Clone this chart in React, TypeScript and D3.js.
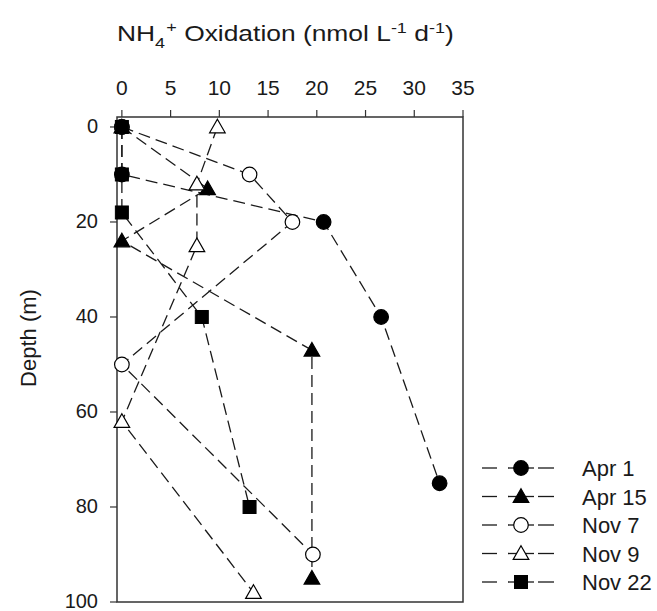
import React from "react";
import * as d3 from "d3";

const depthApr1 = [0, 10, 20, 40, 75];
const valApr1 = [0, 0, 20.7, 26.6, 32.6];
const depthApr15 = [0, 13, 24, 47, 95];
const valApr15 = [0, 8.8, 0, 19.5, 19.5];
const depthNov7 = [0, 10, 20, 50, 90];
const valNov7 = [0, 13.1, 17.5, 0, 19.6];
const depthNov9 = [0, 12, 25, 62, 98];
const valNov9 = [9.8, 7.7, 7.7, 0, 13.5];
const depthNov22 = [0, 10, 18, 40, 80];
const valNov22 = [0, 0, 0, 8.2, 13.1];

const seriesNames = ["Apr 1", "Apr 15", "Nov 7", "Nov 9", "Nov 22"];
const xTicks = [0, 5, 10, 15, 20, 25, 30, 35];
const yTicks = [0, 20, 40, 60, 80, 100];

type Shape = "circle" | "triangle" | "square";
const series = [
  { name: seriesNames[0], d: depthApr1, v: valApr1, shape: "circle" as Shape, filled: true },
  { name: seriesNames[1], d: depthApr15, v: valApr15, shape: "triangle" as Shape, filled: true },
  { name: seriesNames[2], d: depthNov7, v: valNov7, shape: "circle" as Shape, filled: false },
  { name: seriesNames[3], d: depthNov9, v: valNov9, shape: "triangle" as Shape, filled: false },
  { name: seriesNames[4], d: depthNov22, v: valNov22, shape: "square" as Shape, filled: true },
];

const FONT = "'Liberation Sans', Arial, sans-serif";
const INK = "#1a1a1a";

function Marker({ shape, filled, x, y }: { shape: Shape; filled: boolean; x: number; y: number }) {
  const fill = filled ? "#000" : "#fff";
  const stroke = "#000";
  if (shape === "circle") {
    return <circle cx={x} cy={y} r={7.3} fill={fill} stroke={stroke} strokeWidth={1.2} />;
  }
  if (shape === "square") {
    return <rect x={x - 6.5} y={y - 6.5} width={13} height={13} fill={fill} stroke={stroke} strokeWidth={1} />;
  }
  const s = 7.8;
  const p = `M${x},${y - s} L${x + s},${y + s * 0.75} L${x - s},${y + s * 0.75} Z`;
  return <path d={p} fill={fill} stroke={stroke} strokeWidth={1.2} />;
}

export default function App() {
  const W = 657, H = 611;
  const x = d3.scaleLinear().domain([-0.5, 35]).range([117, 463]);
  const y = d3.scaleLinear().domain([-2.1, 100]).range([117, 602]);
  const line = d3
    .line<[number, number]>()
    .x((p) => x(p[0]))
    .y((p) => y(p[1]));

  const left = x.range()[0], right = x.range()[1];
  const top = y.range()[0], bottom = y.range()[1];

  const legendY = d3.scalePoint<string>().domain(seriesNames).range([468, 582]);

  return (
    <svg width={W} height={H} style={{ position: "absolute", left: 0, top: 0, background: "#fff" }} fontFamily={FONT}>
      <rect x={0} y={0} width={W} height={H} fill="#fff" />
      {/* title */}
      <g transform="translate(117,41) scale(1.2,1)">
        <text x={0} y={0} fontSize={22} fill={INK}>
          NH<tspan dy={7} fontSize={15}>4</tspan>
          <tspan dy={-16} dx={1} fontSize={15}>+</tspan>
          <tspan dy={9}> Oxidation (nmol L</tspan>
          <tspan dy={-8} fontSize={15}>-1</tspan>
          <tspan dy={8}> d</tspan>
          <tspan dy={-8} fontSize={15}>-1</tspan>
          <tspan dy={8}>)</tspan>
        </text>
      </g>

      {/* frame */}
      <rect x={left} y={top} width={right - left} height={bottom - top} fill="none" stroke="#333" strokeWidth={1.5} />

      {/* top axis ticks */}
      {xTicks.map((t) => (
        <g key={"xt" + t}>
          <line x1={x(t)} x2={x(t)} y1={top} y2={top - 7} stroke="#333" strokeWidth={1.2} />
          <text x={x(t)} y={top - 22} textAnchor="middle" fontSize={21} fill={INK}>
            {t}
          </text>
        </g>
      ))}
      {/* left axis ticks */}
      {yTicks.map((t) => (
        <g key={"yt" + t}>
          <line x1={left} x2={left - 7} y1={y(t)} y2={y(t)} stroke="#333" strokeWidth={1.2} />
          <text x={left - 19} y={y(t) + 6} textAnchor="end" fontSize={20} fill={INK}>
            {t}
          </text>
        </g>
      ))}
      <text
        transform={`translate(36, 338) rotate(-90)`}
        textAnchor="middle"
        fontSize={22}
        fill={INK}
      >
        Depth (m)
      </text>

      {/* lines */}
      {series.map((s) => (
        <path
          key={"l" + s.name}
          d={line(s.d.map((dd, i) => [s.v[i], dd] as [number, number])) || ""}
          fill="none"
          stroke={INK}
          strokeWidth={1.3}
          strokeDasharray="12,6"
        />
      ))}
      {/* markers */}
      {series.map((s) =>
        s.d.map((dd, i) => (
          <Marker key={s.name + i} shape={s.shape} filled={s.filled} x={x(s.v[i])} y={y(dd)} />
        ))
      )}

      {/* legend */}
      {series.map((s) => {
        const ly = legendY(s.name) || 0;
        return (
          <g key={"lg" + s.name}>
            <line x1={482} x2={497} y1={ly} y2={ly} stroke={INK} strokeWidth={1.3} />
            <line x1={508} x2={534} y1={ly} y2={ly} stroke={INK} strokeWidth={1.3} />
            <line x1={538} x2={554} y1={ly} y2={ly} stroke={INK} strokeWidth={1.3} />
            <Marker shape={s.shape} filled={s.filled} x={521} y={ly} />
            <text x={582} y={ly + 8} fontSize={22} fill={INK}>
              {s.name}
            </text>
          </g>
        );
      })}
    </svg>
  );
}
